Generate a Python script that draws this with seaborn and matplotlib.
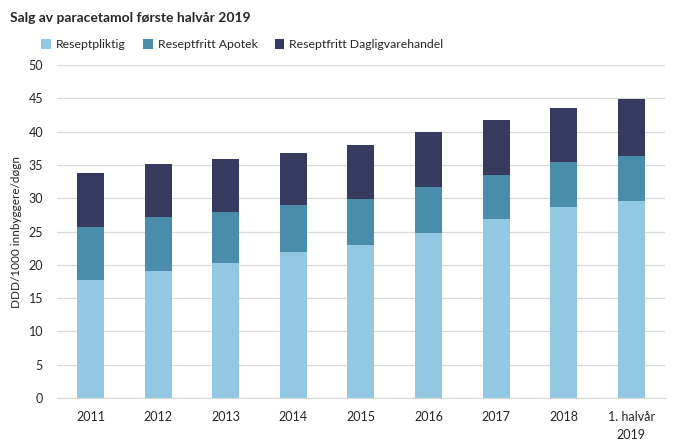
import numpy as np
import pandas as pd
import matplotlib
matplotlib.use('Agg')
import matplotlib.pyplot as plt
from matplotlib.patches import Patch
import seaborn as sns

# --- data (lest av bildet) ---
years = ['2011', '2012', '2013', '2014', '2015', '2016', '2017', '2018', '1. halvår\n2019']
reseptpliktig = [17.75, 19.1, 20.35, 21.9, 23.0, 24.85, 26.95, 28.65, 29.65]
apotek = [8.0, 8.05, 7.6, 7.05, 6.9, 6.9, 6.6, 6.75, 6.75]
daglig = [8.0, 8.0, 7.9, 7.8, 8.15, 8.2, 8.2, 8.1, 8.45]

series = ['Reseptpliktig', 'Reseptfritt Apotek', 'Reseptfritt Dagligvarehandel']
colors = ['#92C8E2', '#4A8DAB', '#363A5E']

sns.set_style('white')
plt.rcParams['font.family'] = ['Lato', 'DejaVu Sans']

df = pd.DataFrame({'år': years, series[0]: reseptpliktig,
                   series[1]: apotek, series[2]: daglig})

fig = plt.figure(figsize=(6.75, 4.46), dpi=100)
ax = fig.add_axes([0.0844, 0.1076, 0.9006, 0.7464])

# stablede søyler
bottom = np.zeros(len(years))
for name, col in zip(series, colors):
    sns.barplot(data=df, x='år', y=name, order=years, color=col,
                width=0.4, bottom=bottom, ax=ax, saturation=1, linewidth=0)
    bottom = bottom + df[name].values

ax.set_ylim(0, 50)
ax.set_yticks(range(0, 51, 5))
ax.yaxis.grid(True, color='#D9D9D9', linewidth=0.9)
ax.set_axisbelow(True)
for s in ['top', 'right', 'left']:
    ax.spines[s].set_visible(False)
ax.spines['bottom'].set_color('#D9D9D9')
ax.tick_params(axis='both', length=0, labelsize=9, colors='#262626')
ax.tick_params(axis='x', pad=9)
ax.tick_params(axis='y', pad=10)
for lbl in ax.get_xticklabels():
    lbl.set_linespacing(1.6)
ax.set_xlabel('')
ax.set_ylabel('DDD/1000 innbyggere/døgn', fontsize=8.5, color='#262626', labelpad=5)

fig.text(0.015, 0.96, 'Salg av paracetamol første halvår 2019',
         fontsize=10, fontweight='bold', ha='left', va='center')

handles = [Patch(facecolor=c, edgecolor='none') for c in colors]
fig.legend(handles, series, loc='center left', bbox_to_anchor=(0.045, 0.9),
           ncol=3, frameon=False, fontsize=8.8, handlelength=0.8,
           handleheight=0.8, handletextpad=0.4, columnspacing=1.4)

fig.savefig('out.png', dpi=100)
